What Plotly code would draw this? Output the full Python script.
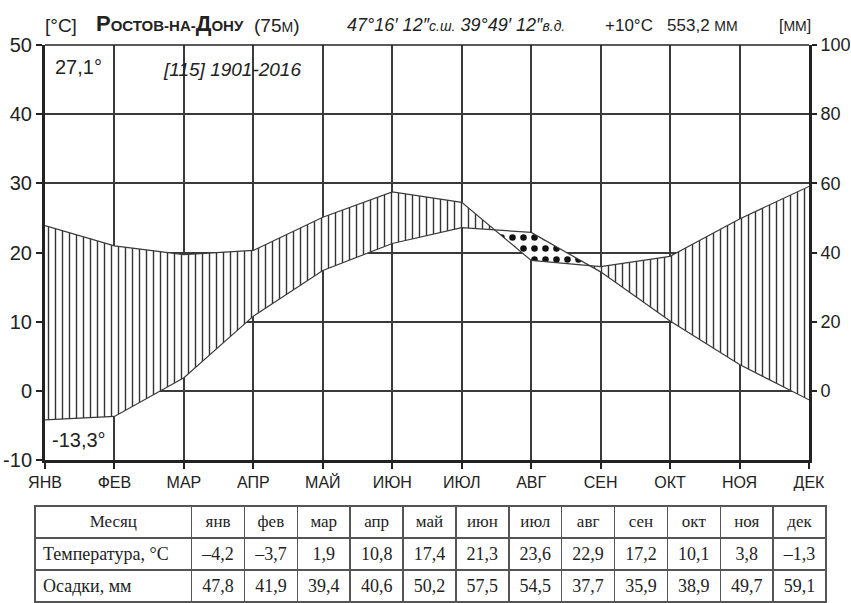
import plotly.graph_objects as go

# ---------------- data ----------------
months_axis = ['ЯНВ', 'ФЕВ', 'МАР', 'АПР', 'МАЙ', 'ИЮН', 'ИЮЛ', 'АВГ', 'СЕН', 'ОКТ', 'НОЯ', 'ДЕК']
months_table = ['янв', 'фев', 'мар', 'апр', 'май', 'июн', 'июл', 'авг', 'сен', 'окт', 'ноя', 'дек']
temperature = [-4.2, -3.7, 1.9, 10.8, 17.4, 21.3, 23.6, 22.9, 17.2, 10.1, 3.8, -1.3]
precipitation = [47.8, 41.9, 39.4, 40.6, 50.2, 57.5, 54.5, 37.7, 35.9, 38.9, 49.7, 59.1]
temp_ticks = [-10, 0, 10, 20, 30, 40, 50]
prec_ticks = [0, 20, 40, 60, 80, 100]

W, H = 851, 603
X0, X1 = 45, 809      # plot area in px
Y0, Y1 = 45, 460
LINE = '#3a3a3a'
FONT_SANS = 'Liberation Sans Narrow, Liberation Sans, Arial, sans-serif'
FONT_SANS2 = 'Liberation Sans, Arial, sans-serif'
FONT_SERIF = 'Liberation Serif, Times New Roman, serif'

def px(x):
    return x / W

def py(y):
    return 1 - y / H

xs = list(range(len(months_axis)))
prec_scaled = [p / 2 for p in precipitation]   # Walter-Lieth: 10 °C = 20 mm

# --------- split into wet/dry regions (crossings derived from data) ---------
def regions(x, a, b):
    out = []
    cur = {'wet': a[0] >= b[0], 'x': [x[0]], 'a': [a[0]], 'b': [b[0]]}
    for i in range(len(x) - 1):
        d0 = a[i] - b[i]
        d1 = a[i + 1] - b[i + 1]
        if (d0 >= 0) != (d1 >= 0):
            t = d0 / (d0 - d1)
            xc = x[i] + t * (x[i + 1] - x[i])
            yc = b[i] + t * (b[i + 1] - b[i])
            cur['x'].append(xc); cur['a'].append(yc); cur['b'].append(yc)
            out.append(cur)
            cur = {'wet': d1 >= 0, 'x': [xc], 'a': [yc], 'b': [yc]}
        cur['x'].append(x[i + 1]); cur['a'].append(a[i + 1]); cur['b'].append(b[i + 1])
    out.append(cur)
    return out

fig = go.Figure()

for r in regions(xs, prec_scaled, temperature):
    polyx = r['x'] + r['x'][::-1]
    polyy = r['a'] + r['b'][::-1]
    if r['wet']:
        pat = dict(shape='|', size=7, solidity=0.2, fgcolor='#333', bgcolor='white', fillmode='replace')
    else:
        pat = dict(shape='.', size=11, solidity=0.28, fgcolor='#111', bgcolor='white', fillmode='replace')
    fig.add_trace(go.Scatter(x=polyx, y=polyy, mode='lines', fill='toself',
                             fillpattern=pat, line=dict(width=0, color=LINE),
                             hoverinfo='skip', showlegend=False))

fig.add_trace(go.Scatter(x=xs, y=temperature, mode='lines', line=dict(color=LINE, width=1.2),
                         hoverinfo='skip', showlegend=False))
fig.add_trace(go.Scatter(x=xs, y=precipitation, mode='lines', line=dict(color=LINE, width=1.2),
                         yaxis='y2', hoverinfo='skip', showlegend=False))

# ---------------- table ----------------
def fmt(v):
    s = f'{abs(v):.1f}'.replace('.', ',')
    return ('–' + s) if v < 0 else s

cell_cols = [['Температура, °С', 'Осадки, мм']]
for t, p in zip(temperature, precipitation):
    cell_cols.append([fmt(t), fmt(p)])

fig.add_trace(go.Table(
    domain=dict(x=[px(35), px(826)], y=[0, py(506)]),
    columnwidth=[157] + [53] * 12,
    header=dict(values=['Месяц'] + months_table, align='center', height=32,
                font=dict(family=FONT_SERIF, size=17, color='#222'),
                fill=dict(color='white'), line=dict(color='#555', width=1.5)),
    cells=dict(values=cell_cols, align=['left'] + ['center'] * 12, height=32,
               font=dict(family=FONT_SERIF, size=18, color='#222'),
               fill=dict(color='white'), line=dict(color='#555', width=1.5)),
))

# ---------------- layout ----------------
fig.update_layout(
    width=W, height=H,
    margin=dict(l=0, r=0, t=0, b=0),
    paper_bgcolor='white', plot_bgcolor='white',
    font=dict(family=FONT_SANS2, color='#222'),
    xaxis=dict(domain=[px(X0), px(X1)], range=[0, 11], tickvals=xs, ticktext=months_axis,
               automargin=False,
               showgrid=True, gridcolor=LINE, gridwidth=1.5, zeroline=False,
               showline=True, linecolor='#222', linewidth=3,
               ticks='outside', ticklen=6, tickwidth=1.5, tickcolor='#222',
               tickfont=dict(family=FONT_SANS, size=16, color='#222')),
    yaxis=dict(domain=[py(Y1), py(Y0)], range=[-10, 50], tickvals=temp_ticks,
               ticktext=[str(v) for v in temp_ticks], automargin=False,
               showgrid=True, gridcolor=LINE, gridwidth=1.5, zeroline=False,
               showline=True, linecolor='#222', linewidth=3,
               ticks='outside', ticklen=6, tickwidth=1.5, tickcolor='#222',
               tickfont=dict(family=FONT_SANS2, size=20, color='#222')),
    yaxis2=dict(overlaying='y', side='right', range=[-20, 100], tickvals=prec_ticks,
                automargin=False,
                showgrid=False, zeroline=False,
                showline=True, linecolor='#222', linewidth=3,
                ticks='outside', ticklen=5, tickwidth=1.5, tickcolor='#222',
                tickfont=dict(family=FONT_SANS2, size=18, color='#222')),
    shapes=[dict(type='line', xref='paper', yref='paper', x0=px(X0), x1=px(X1),
                 y0=py(Y0), y1=py(Y0), line=dict(color='#222', width=1.5))],
)

ann = []
def add(text, x, y, size, xanchor='left', family=FONT_SANS2, yanchor='middle'):
    ann.append(dict(text=text, x=px(x), y=py(y), xref='paper', yref='paper', showarrow=False,
                    xanchor=xanchor, yanchor=yanchor, font=dict(family=family, size=size, color='#222')))

add('[°C]', 43, 25, 19)
add("<b>Р<span style='font-size:15px'>ОСТОВ-НА-</span>Д<span style='font-size:15px'>ОНУ</span></b>", 94, 23, 22)
add("(75<span style='font-size:14px'>М</span>)", 252, 25, 19)
add("<i>47°16′ 12″<span style='font-size:14px'>с.ш.</span> 39°49′ 12″<span style='font-size:14px'>в.д.</span></i>", 345, 25, 18)
add("+10°C&nbsp;&nbsp; 553,2 <span style='font-size:14px'>ММ</span>", 603, 25, 17)
add("[<span style='font-size:14px'>ММ</span>]", 777, 25, 16)
add('27,1°', 53, 67, 20)
add('<i>[115] 1901-2016</i>', 161, 69, 19)
add('-13,3°', 50, 440, 20)
fig.update_layout(annotations=ann)

fig.write_html('out.html', config={'displayModeBar': False},
               post_script="document.body.style.margin='0';document.body.style.overflow='hidden';")
